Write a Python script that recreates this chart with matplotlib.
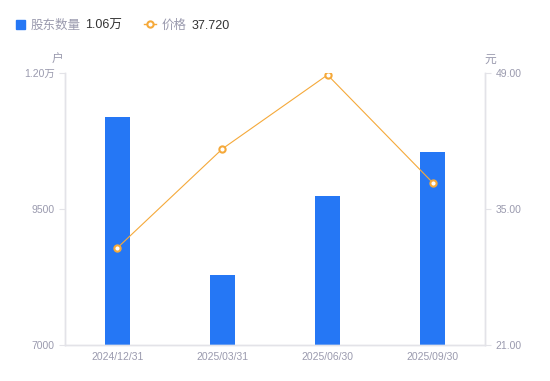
import matplotlib.pyplot as plt
from matplotlib.lines import Line2D

plt.rcParams['font.family'] = ['Liberation Sans', 'Noto Sans CJK SC', 'DejaVu Sans']

# dane
daty = ["2024/12/31", "2025/03/31", "2025/06/30", "2025/09/30"]
akcjonariusze = [11190, 8290, 9740, 10550]
ceny = [31.0, 41.2, 48.8, 37.72]

niebieski = "#2577F5"
pomaranczowy = "#F5A93A"
szary = "#9A9AAE"
linia_osi = "#E3E3E8"

fig = plt.figure(figsize=(5.5, 3.81), dpi=100)
ax = fig.add_axes([0.118, 0.0945, 0.764, 0.714])
ax2 = ax.twinx()

x = range(len(daty))
ax.bar(x, akcjonariusze, width=0.24, color=niebieski, zorder=2)
ax2.plot(x, ceny, color=pomaranczowy, linewidth=0.8, marker='o', markersize=4.5,
         markerfacecolor='white', markeredgecolor=pomaranczowy, markeredgewidth=1.5, zorder=3)

ax.set_xlim(-0.5, len(daty) - 0.5)
ax.set_ylim(7000, 12000)
ax2.set_ylim(21, 49)

ax.set_yticks([7000, 9500, 12000])
ax.set_yticklabels(["7000", "9500", "1.20万"])
ax2.set_yticks([21, 35, 49])
ax2.set_yticklabels(["21.00", "35.00", "49.00"])
ax.set_xticks(list(x))
ax.set_xticklabels(daty)

for a in (ax, ax2):
    for s in a.spines.values():
        s.set_color(linia_osi)
        s.set_linewidth(1)
    a.spines['top'].set_visible(False)
    a.tick_params(axis='y', colors=linia_osi, labelcolor=szary, labelsize=7.5, length=4, width=0.8)
ax.tick_params(axis='x', length=0, labelcolor=szary, labelsize=7.5, pad=5)

# jednostki
fig.text(58 / 550, 1 - 60 / 381, "户", color=szary, fontsize=8.5, ha='center', va='center')
fig.text(490 / 550, 1 - 60 / 381, "元", color=szary, fontsize=8.5, ha='center', va='center')

# legenda
y_leg = 1 - 24 / 381
y_txt = 1 - 26 / 381
fig.patches.append(plt.Rectangle((16 / 550, 1 - 29 / 381), 9 / 550, 9 / 381,
                                 transform=fig.transFigure, color=niebieski))
fig.text(31 / 550, y_txt, "股东数量", color=szary, fontsize=9, va='center')
fig.text(85 / 550, y_txt, "1.06万", color="#333333", fontsize=9, va='center')
fig.lines.append(Line2D([144 / 550, 156 / 550], [y_leg, y_leg], transform=fig.transFigure,
                        color=pomaranczowy, linewidth=1))
fig.lines.append(Line2D([150 / 550], [y_leg], transform=fig.transFigure, color=pomaranczowy,
                        marker='o', markersize=4.5, markerfacecolor='white', markeredgewidth=1.5))
fig.text(162 / 550, y_txt, "价格", color=szary, fontsize=9, va='center')
fig.text(192 / 550, y_txt, "37.720", color="#333333", fontsize=9, va='center')

fig.savefig("out.png", dpi=100)
